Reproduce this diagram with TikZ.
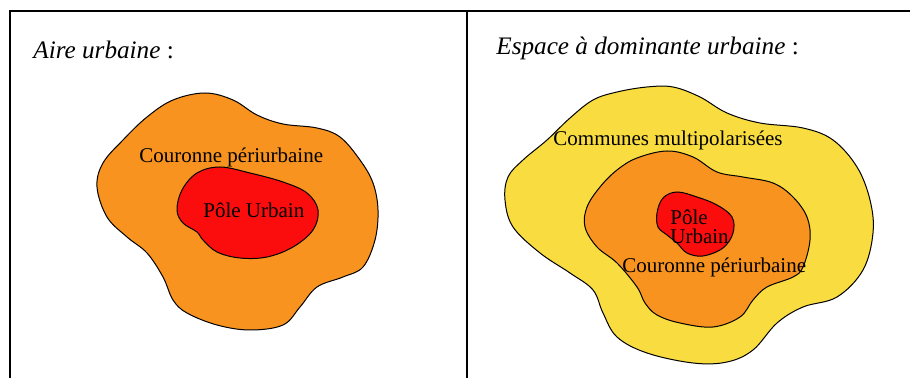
\documentclass[tikz,border=0pt]{standalone}
\usepackage{fontspec}
\setmainfont{Liberation Serif}
\usepackage{tikz}
\usetikzlibrary{positioning}
\definecolor{Ring}{HTML}{F7931E}
\definecolor{Pole}{HTML}{FC0D0D}
\definecolor{Multi}{HTML}{F9DD40}

\begin{document}
\begin{tikzpicture}[
    x=0.5pt,y=-0.5pt,
    zone/.style={draw=black,line width=0.5pt},
    frame/.style={draw=black,line width=1pt},
    title/.style={anchor=base west,inner sep=0pt,font=\fontsize{12.6}{15}\selectfont},
    label/.style={anchor=base west,inner sep=0pt,font=\fontsize{10.5}{9}\selectfont}
]
\useasboundingbox (0,0) rectangle (910,378);
% frame
\coordinate (tl) at (10,11);
\coordinate (tr) at (910,11);
\coordinate (bl) at (10,378);
\coordinate (mt) at (467,11);
\coordinate (mb) at (467,378);
\draw[frame] (bl) -- (tl) -- (tr);
\draw[frame] (mt) -- (mb);

% left: aire urbaine
\node[title] (t1) at (33,59) {\itshape Aire urbaine\/\upshape\ :};
\fill[Ring,zone] plot[smooth cycle,tension=0.6] coordinates {
    (205,93) (233,100) (257,115) (283,124) (317,128) (340,137) (360,160)
    (373,183) (378,210) (375,240) (363,267) (343,277) (317,287) (300,307)
    (283,325) (250,330) (217,325) (187,313) (173,300) (163,277) (147,253)
    (127,237) (107,217) (97,187) (103,163) (123,140) (147,117) (173,100)};
\fill[Pole,zone] plot[smooth cycle,tension=0.6] coordinates {
    (220,167) (250,173) (283,182) (307,193) (318,210) (313,230) (293,247)
    (267,257) (240,258) (217,252) (203,240) (197,232) (183,223) (177,210)
    (182,190) (197,173)};
\node[label] (c1) at (139,163) {Couronne périurbaine};
\node[label] (p1) at (203,218) {Pôle Urbain};

% right: espace a dominante urbaine
\node[title] (t2) at (496,55) {\itshape Espace à dominante urbaine\/\upshape\ :};
\fill[Multi,zone] plot[smooth cycle,tension=0.6] coordinates {
    (647,87) (673,87) (700,97) (727,113) (760,123) (803,128) (833,140)
    (857,167) (870,200) (873,233) (863,270) (837,297) (803,307) (777,323)
    (753,350) (727,362) (693,363) (647,353) (617,337) (603,313) (593,290)
    (570,273) (540,253) (513,227) (505,200) (508,177) (523,160) (547,140)
    (570,118) (593,100) (617,92)};
\fill[Ring,zone] plot[smooth cycle,tension=0.6] coordinates {
    (667,151) (693,157) (717,172) (743,177) (773,183) (793,197) (807,217)
    (810,240) (803,267) (793,277) (767,287) (753,300) (740,317) (713,327)
    (680,323) (657,315) (645,303) (637,287) (617,263) (597,247) (585,227)
    (587,207) (600,187) (617,170) (637,158)};
\fill[Pole,zone] plot[smooth cycle,tension=0.6] coordinates {
    (677,192) (697,197) (717,205) (732,217) (733,233) (723,248) (703,256)
    (687,253) (677,243) (667,235) (658,227) (657,213) (663,198)};
\node[label] (m2) at (553,146) {Communes multipolarisées};
\node[label,align=left] (p2) at (670,244) {Pôle\\[0.5pt]Urbain};
\node[label] (c2) at (622,273) {Couronne périurbaine};
\end{tikzpicture}
\end{document}
